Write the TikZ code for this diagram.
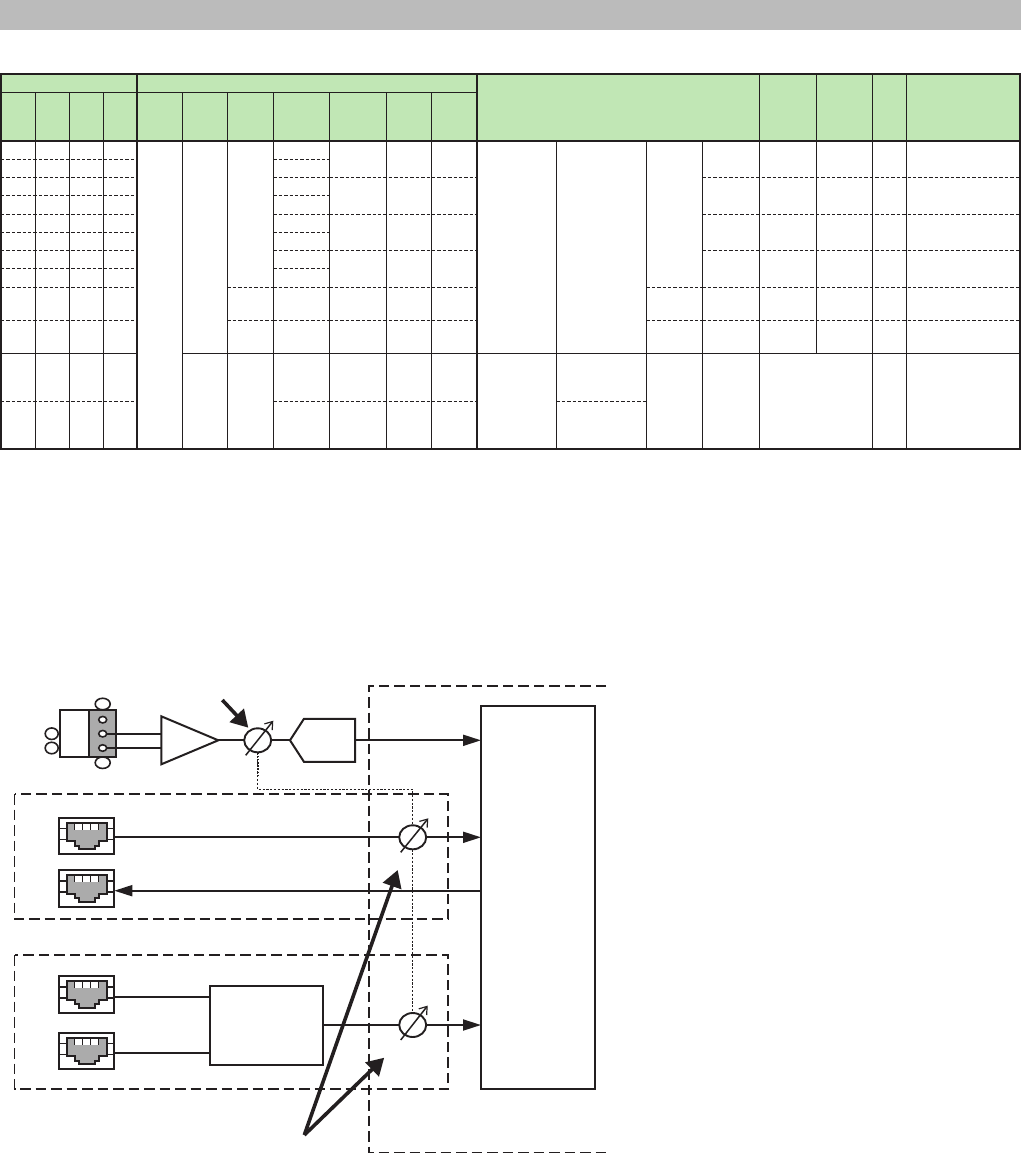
\documentclass[tikz,border=0pt]{standalone}
\usepackage{tikz}
\usetikzlibrary{arrows.meta,shapes.geometric,shapes.symbols}
\definecolor{inkBlack}{RGB}{35,31,32}
\definecolor{barGray}{RGB}{187,187,187}
\definecolor{headGreen}{RGB}{193,231,181}
\definecolor{jackGray}{RGB}{171,171,171}
\tikzset{
  table thick/.style={draw=inkBlack,line width=2pt},
  table thin/.style={draw=inkBlack,line width=1pt},
  table dash/.style={draw=inkBlack,line width=1pt,dash pattern=on 3.4pt off 2pt},
  part box/.style={rectangle,draw=inkBlack,line width=2pt,fill=white,inner sep=0pt,outer sep=0pt},
  jack box/.style={part box,minimum width=55.6pt,minimum height=36.4pt},
  pin/.style={ellipse,draw=inkBlack,line width=1.6pt,fill=white,inner sep=0pt,outer sep=0pt,minimum width=8pt,minimum height=6.5pt},
  lug/.style={ellipse,draw=inkBlack,line width=1.6pt,fill=white,inner sep=0pt,outer sep=0pt,minimum width=15pt,minimum height=11.5pt},
  fader/.style={ellipse,draw=inkBlack,line width=1.9pt,fill=white,inner sep=0pt,outer sep=0pt,minimum width=27pt,minimum height=24pt},
  wire/.style={draw=inkBlack,line width=1.9pt},
  wire arrow/.style={wire,-{Triangle[length=18pt,width=11pt]}},
  fader slash/.style={draw=inkBlack,line width=1.5pt,-{Straight Barb[length=7pt,width=10pt,line width=1.2pt]}},
  level arrow/.style={draw=inkBlack,line width=3.6pt,-{Triangle[length=17pt,width=19pt]}},
  group frame/.style={draw=inkBlack,line width=1.9pt,dash pattern=on 10.5pt off 5pt},
  control link/.style={draw=inkBlack,line width=.9pt,dash pattern=on 2.2pt off 1.6pt},
  control stub/.style={draw=inkBlack,line width=1.7pt,dash pattern=on 1.6pt off 1.6pt},
  rj jack/.pic={
    \draw[draw=inkBlack,line width=1.2pt] (-27.8,-7.3) -- (-20,-7.3) (-27.8,3.7) -- (-20,3.7) (20,-7.3) -- (27.8,-7.3) (20,3.7) -- (27.8,3.7);
    \draw[fill=jackGray,draw=inkBlack,line width=2pt] (-20,-13) -- (20,-13) -- (20,5.3) -- (12,5.3) -- (12,10) -- (8,10) -- (8,13.3) -- (-8,13.3) -- (-8,10) -- (-12,10) -- (-12,5.3) -- (-20,5.3) -- cycle;
    \fill[white] (-12,-12) rectangle (12,-6);
    \foreach \barx in {-12,-4,4,12}
      \draw[draw=inkBlack,line width=1.8pt] (\barx,-12) -- (\barx,-6);
  }
}
\begin{document}
\begin{tikzpicture}[x=1pt,y=-1pt]
  \useasboundingbox (0,0) rectangle (1021,1154);
  % title bar and table head
  \fill[barGray] (0,0) rectangle (1021,30);
  \fill[headGreen] (1,74) rectangle (1019.5,140.7);
  % table rows
  \foreach \rowy in {159.3,177.3,195.3,214.3,232.3,250.3,268.3,287.3,320.3,401.3}
    \draw[table dash] (1,\rowy) -- (137,\rowy);
  \foreach \rowy in {159.3,177.3,195.3,214.3,232.3,250.3,268.3,287.3,320.3,401.3}
    \draw[table dash] (273.3,\rowy) -- (329.3,\rowy);
  \foreach \rowy in {177.3,214.3,250.3,287.3,320.3,401.3}
    \draw[table dash] (329.3,\rowy) -- (477,\rowy);
  \foreach \rowy in {177.3,214.3,250.3,287.3,320.3}
    \draw[table dash] (702.3,\rowy) -- (1019.5,\rowy);
  \foreach \rowy in {287.3,320.3} {
    \draw[table dash] (227.3,\rowy) -- (273.3,\rowy);
    \draw[table dash] (646.4,\rowy) -- (702.3,\rowy);
  }
  \draw[table dash] (556.4,401.3) -- (646.4,401.3);
  \draw[table thin] (1,353.3) -- (137,353.3);
  \draw[table thin] (182.3,353.3) -- (1019.5,353.3);
  \draw[table thin] (1,92.3) -- (477,92.3);
  % table columns
  \foreach \colx in {35.3,69.3,103.3,182.3,227.3,273.3,329.3,386.3,431.3}
    \draw[table thin] (\colx,92.3) -- (\colx,449.3);
  \foreach \colx in {556.4,646.4,702.3}
    \draw[table thin] (\colx,140.7) -- (\colx,449.3);
  \foreach \colx in {759.2,872.4,906.5}
    \draw[table thin] (\colx,74) -- (\colx,449.3);
  \draw[table thin] (816.5,74) -- (816.5,353.3);
  \draw[table thick] (1,74) rectangle (1019.5,449.3);
  \draw[table thick] (137,74) -- (137,449.3);
  \draw[table thick] (477,74) -- (477,449.3);
  \draw[table thick] (1,140.7) -- (1019.5,140.7);
  % dashed frames
  \draw[group frame] (606,686) -- (369,686) -- (369,1152.5) -- (606,1152.5);
  \draw[group frame] (14.5,794) rectangle (448,919);
  \draw[group frame] (14.5,955) rectangle (448,1089);
  % input connector
  \node[lug] (lugTop) at (102.7,704) {};
  \node[lug] (lugBottom) at (102.7,762.7) {};
  \node[lug,minimum width=13pt] (lugA) at (51.7,733.7) {};
  \node[lug,minimum width=13pt] (lugB) at (51.7,748) {};
  \node[part box,minimum width=29.6pt,minimum height=47.6pt] (xlrBody) at (74.5,733.5) {};
  \node[part box,fill=jackGray,minimum width=26.7pt,minimum height=47.6pt] (xlrPins) at (102.7,733.5) {};
  \node[pin] (pinTop) at (102.7,719.7) {};
  \node[pin] (pinMid) at (102.7,733.7) {};
  \node[pin] (pinLow) at (102.7,748) {};
  % analog path
  \node[part box,isosceles triangle,isosceles triangle apex angle=45.6,isosceles triangle stretches,minimum width=48pt,minimum height=57pt,anchor=lower side] (preamp) at (161.3,740.3) {};
  \node[fader] (faderA) at (257.7,740.3) {};
  \node[part box,signal,signal to=west,signal pointer angle=114,minimum width=65pt,minimum height=43pt,anchor=west] (adc) at (290,740.3) {};
  \node[part box,minimum width=114pt,minimum height=383pt] (block) at (538,897.5) {};
  % jacks and faders
  \node[jack box] (jackA) at (86.5,835.7) {};
  \node[jack box] (jackB) at (86.5,888.3) {};
  \node[jack box] (jackC) at (86.5,994.3) {};
  \node[jack box] (jackD) at (86.5,1050.8) {};
  \pic at (jackA) {rj jack};
  \pic at (jackB) {rj jack};
  \pic at (jackC) {rj jack};
  \pic at (jackD) {rj jack};
  \node[part box,minimum width=113pt,minimum height=79pt] (mixer) at (266.5,1025) {};
  \node[fader] (faderB) at (412.7,837.3) {};
  \node[fader] (faderC) at (412.7,1025) {};
  \coordinate (jackBport) at ([yshift=-2.4pt]jackB.east);
  % connectors
  \draw[wire] (pinMid) -- (pinMid -| preamp.lower side);
  \draw[wire] (pinLow) -- (pinLow -| preamp.lower side);
  \draw[wire] (preamp.apex) -- (faderA.west);
  \draw[wire] (faderA.east) -- (adc.west);
  \draw[wire arrow] (adc.east |- faderA.east) -- (faderA.east -| block.west);
  \draw[wire] ([yshift=-1.6pt]jackA.east) -- (faderB.west);
  \draw[wire arrow] (faderB.east) -- (faderB.east -| block.west);
  \draw[wire arrow] (jackBport -| block.west) -- (jackBport);
  \draw[wire] ([yshift=-2.4pt]jackC.east) -- ([yshift=-2.4pt]jackC.east -| mixer.west);
  \draw[wire] ([yshift=-1.9pt]jackD.east) -- ([yshift=-1.9pt]jackD.east -| mixer.west);
  \draw[wire] (mixer.east) -- (faderC.west);
  \draw[wire arrow] (faderC.east) -- (faderC.east -| block.west);
  % control link between faders
  \draw[control stub] (faderA.south) -- ++(0,24);
  \draw[control link] (faderA.south) -- ++(0,37) -| (faderB.north);
  \draw[control link] (faderB.south) -- (faderC.north);
  % fader slashes
  \draw[fader slash] ([shift={(-12,15)}]faderA.center) -- ([shift={(15.6,-19.6)}]faderA.center);
  \draw[fader slash] ([shift={(-12,15)}]faderB.center) -- ([shift={(15.6,-19)}]faderB.center);
  \draw[fader slash] ([shift={(-12,15)}]faderC.center) -- ([shift={(15,-19.4)}]faderC.center);
  % level arrows
  \coordinate (levelStart) at (222.3,700);
  \coordinate (levelEnd) at (248.3,727.7);
  \draw[level arrow] (levelStart) -- (levelEnd);
  \coordinate (trimRoot) at (304.3,1135);
  \coordinate (trimB) at (397.7,870);
  \coordinate (trimC) at (384.2,1057.7);
  \draw[level arrow,line join=miter] (trimRoot) -- (trimB);
  \draw[level arrow,line join=miter] (trimRoot) -- (trimC);
\end{tikzpicture}
\end{document}
